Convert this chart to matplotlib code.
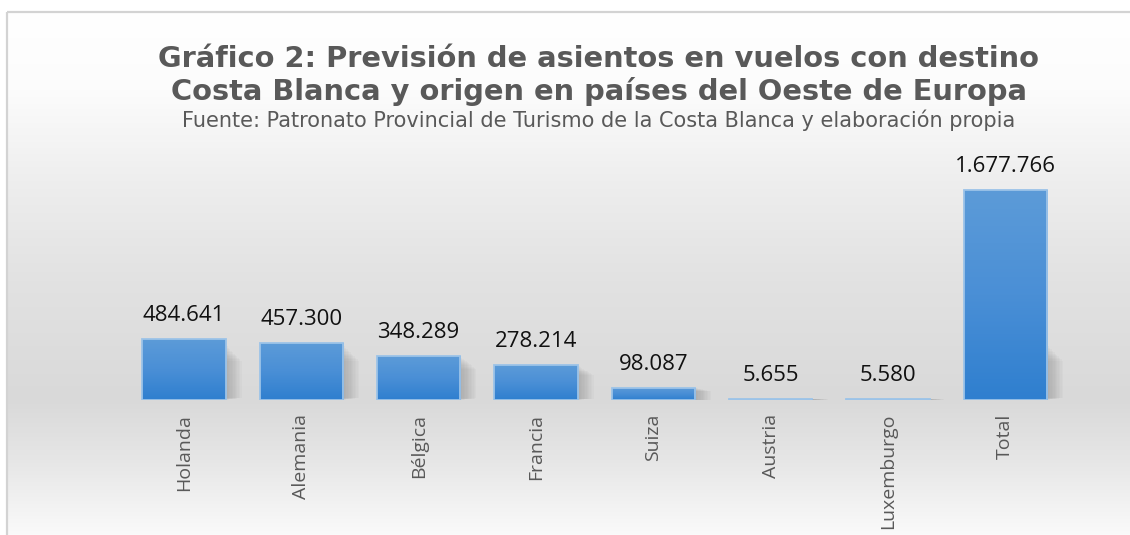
import numpy as np
import matplotlib
matplotlib.use("Agg")
import matplotlib.pyplot as plt
from matplotlib.colors import LinearSegmentedColormap
from matplotlib.patches import Rectangle

categories = ["Holanda", "Alemania", "Bélgica", "Francia", "Suiza", "Austria", "Luxemburgo", "Total"]
values = [484641, 457300, 348289, 278214, 98087, 5655, 5580, 1677766]
title_lines = ["Gráfico 2: Previsión de asientos en vuelos con destino",
               "Costa Blanca y origen en países del Oeste de Europa"]
subtitle = "Fuente: Patronato Provincial de Turismo de la Costa Blanca y elaboración propia"

W, H = 1130, 535
fig = plt.figure(figsize=(W / 100, H / 100), dpi=100)
fig.patch.set_facecolor("white")

# background gradient panel
bg = fig.add_axes([0, 0, 1, 1], zorder=0)
bg.axis("off")
stops_y = np.array([12, 90, 180, 280, 400, 460, 535])
stops_c = np.array([255, 252, 238, 226, 217, 230, 250])
ys = np.linspace(12, 560, 400)
vals = np.interp(ys, stops_y, stops_c) / 255.0
grad = np.repeat(vals[:, None], 2, axis=1)
rgb = np.stack([grad, grad, grad], axis=-1)
bg.imshow(rgb, extent=[7, W + 40, 560, 12], aspect="auto", interpolation="nearest")
bg.plot([7, 7], [H + 5, 12], color="#d3d3d3", lw=1.6, solid_capstyle="butt")
bg.plot([7, W + 5], [12, 12], color="#d3d3d3", lw=1.6, solid_capstyle="butt")
bg.set_xlim(0, W)
bg.set_ylim(H, 0)

# titles
fig.text(599 / W, 1 - 67 / H, title_lines[0], ha="center", va="baseline",
         fontsize=20.8, fontweight="bold", color="#595959", family="DejaVu Sans")
fig.text(599 / W, 1 - 100 / H, title_lines[1], ha="center", va="baseline",
         fontsize=20.8, fontweight="bold", color="#595959", family="DejaVu Sans")
fig.text(599 / W, 1 - 127 / H, subtitle, ha="center", va="baseline",
         fontsize=15, color="#595959", family="DejaVu Sans")

# main axes
left_px, right_px, base_px, top_px = 125.3, 1064.0, 400.0, 170.0
ax = fig.add_axes([left_px / W, 1 - base_px / H, (right_px - left_px) / W, (base_px - top_px) / H], zorder=2)
ax.patch.set_alpha(0)
x = np.arange(len(categories))
vmax = max(values)
ymax = vmax * (base_px - top_px) / 210.0
ax.set_xlim(-0.5, len(categories) - 0.5)
ax.set_ylim(0, ymax)
for s in ax.spines.values():
    s.set_visible(False)
ax.set_yticks([])

bw = 0.71
bars = ax.bar(x, values, width=bw, color="none", edgecolor="#9cc3e8", linewidth=1.3, zorder=3)
cmap = LinearSegmentedColormap.from_list("b", ["#2f7fcf", "#4a8fd6", "#5c9bd8"])
grad_img = np.linspace(0, 1, 100)[:, None]
for b, v in zip(bars, values):
    im = ax.imshow(grad_img, cmap=cmap, extent=[b.get_x(), b.get_x() + bw, 0, v],
                   aspect="auto", origin="lower", zorder=2.5, interpolation="bilinear")
    im.set_clip_path(b)
    # soft shadow to the lower right
    sh_h = min(v, ymax * 55 / 230.0)
    n = 12
    for k in range(n):
        ax.add_patch(Rectangle((b.get_x() + bw, sh_h * 0.04 * k / n), 0.005 + 0.012 * k,
                               sh_h * (1 - 0.35 * k / n),
                               facecolor="#7a7a7a", edgecolor="none", alpha=0.045, zorder=2))
    ax.annotate(f"{v:,}".replace(",", "."), (b.get_x() + bw / 2, v), xytext=(0, 13),
                textcoords="offset points", ha="center", va="baseline",
                fontsize=16, color="#111111", family="Open Sans")

ax.set_xticks(x)
ax.set_xticklabels(categories, rotation=90, fontsize=14, color="#595959", family="Open Sans")
ax.tick_params(axis="x", length=0, pad=10)
ax.set_xlim(-0.5, len(categories) - 0.5)
ax.set_ylim(0, ymax)

fig.savefig("out.png", dpi=100)
